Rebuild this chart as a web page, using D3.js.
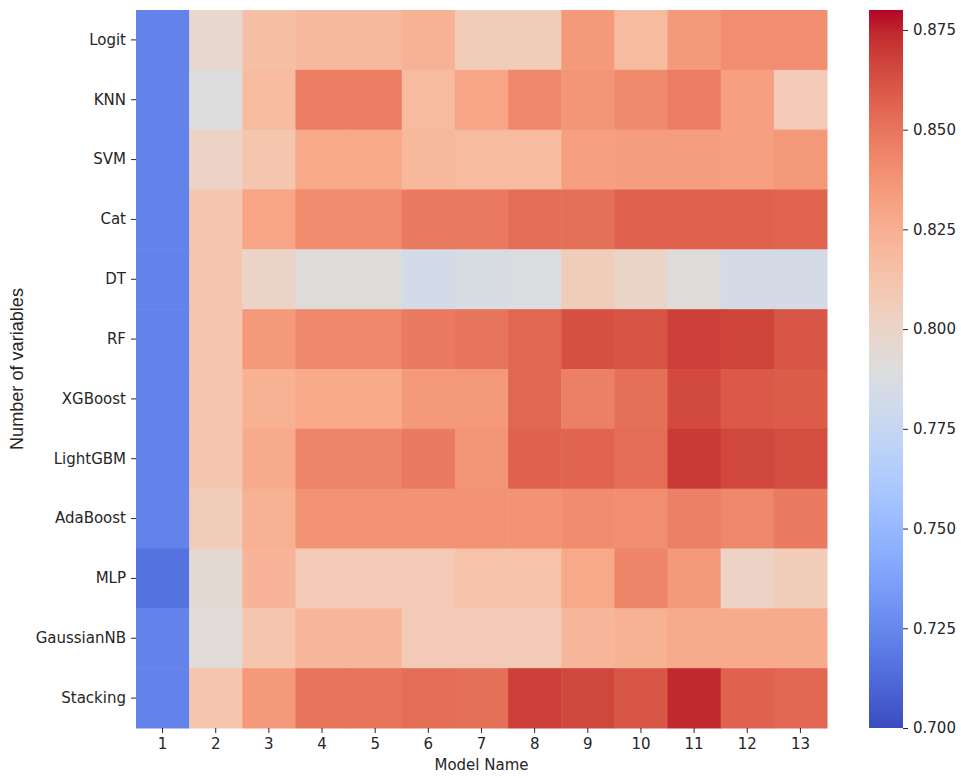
<!DOCTYPE html>
<html><head><meta charset="utf-8">
<script src="https://cdn.jsdelivr.net/npm/d3@7"></script>
<style>body{margin:0;background:#fff}svg{display:block}</style>
</head><body>
<script>
const models = ["Logit","KNN","SVM","Cat","DT","RF","XGBoost","LightGBM","AdaBoost","MLP","GaussianNB","Stacking"];
const columns = ["1","2","3","4","5","6","7","8","9","10","11","12","13"];
const rowLogit      = [0.723,0.797,0.815,0.819,0.819,0.823,0.807,0.807,0.835,0.818,0.835,0.840,0.840];
const rowKNN        = [0.723,0.790,0.818,0.847,0.847,0.818,0.830,0.843,0.837,0.842,0.847,0.832,0.808];
const rowSVM        = [0.723,0.801,0.812,0.828,0.828,0.820,0.818,0.818,0.832,0.833,0.833,0.832,0.836];
const rowCat        = [0.723,0.812,0.830,0.841,0.841,0.848,0.848,0.853,0.852,0.857,0.857,0.857,0.856];
const rowDT         = [0.723,0.812,0.800,0.791,0.791,0.783,0.786,0.788,0.806,0.800,0.791,0.784,0.784];
const rowRF         = [0.723,0.812,0.835,0.843,0.843,0.848,0.850,0.855,0.863,0.862,0.868,0.867,0.861];
const rowXGBoost    = [0.723,0.812,0.824,0.828,0.828,0.835,0.836,0.855,0.846,0.852,0.865,0.860,0.859];
const rowLightGBM   = [0.723,0.812,0.827,0.844,0.844,0.848,0.837,0.857,0.856,0.853,0.870,0.866,0.864];
const rowAdaBoost   = [0.723,0.807,0.824,0.838,0.838,0.838,0.838,0.838,0.841,0.840,0.846,0.843,0.848];
const rowMLP        = [0.716,0.795,0.822,0.808,0.808,0.808,0.814,0.814,0.828,0.844,0.835,0.801,0.807];
const rowGaussianNB = [0.723,0.792,0.812,0.821,0.821,0.808,0.808,0.808,0.821,0.824,0.827,0.827,0.827];
const rowStacking   = [0.723,0.812,0.835,0.850,0.850,0.853,0.852,0.868,0.866,0.861,0.874,0.857,0.855];
const values = [rowLogit,rowKNN,rowSVM,rowCat,rowDT,rowRF,rowXGBoost,rowLightGBM,rowAdaBoost,rowMLP,rowGaussianNB,rowStacking];
const colorTicks = [0.700,0.725,0.750,0.775,0.800,0.825,0.850,0.875];
const vmin = 0.70, vmax = 0.88;

// matplotlib coolwarm (Moreland) control points
const cw = [[59,76,192],[68,90,204],[77,104,215],[87,117,225],[98,130,234],[108,142,241],[119,154,247],[130,165,251],[141,176,254],[152,185,255],[163,194,255],[174,201,253],[184,208,249],[194,213,244],[204,217,238],[213,219,230],[221,221,221],[229,216,209],[236,211,197],[241,204,185],[245,196,173],[247,187,160],[247,177,148],[247,166,135],[244,154,123],[241,141,111],[236,127,99],[229,112,88],[222,96,77],[213,80,66],[203,62,56],[192,40,47],[180,4,38]];
const cwScale = d3.scaleLinear().domain(cw.map((d,i)=>i/(cw.length-1))).range(cw.map(c=>`rgb(${c[0]},${c[1]},${c[2]})`)).clamp(true);
const color = v => cwScale((v - vmin)/(vmax - vmin));

const W = 961, H = 778;
const L = 136, R = 827, T = 10, B = 728;
const svg = d3.select("body").append("svg").attr("width",W).attr("height",H)
  .style("font-family","'DejaVu Sans', sans-serif");

const x = d3.scaleBand().domain(columns).range([L,R]).padding(0);
const y = d3.scaleBand().domain(models).range([T,B]).padding(0);

const cells = [];
values.forEach((row,i)=>row.forEach((v,j)=>cells.push({m:models[i],c:columns[j],v})));
svg.append("g").selectAll("rect").data(cells).join("rect")
  .attr("x",d=>x(d.c)).attr("y",d=>y(d.m))
  .attr("width",x.bandwidth()+0.5).attr("height",y.bandwidth()+0.5)
  .attr("fill",d=>color(d.v));

const xAxis = svg.append("g").attr("transform",`translate(0,${B})`)
  .call(d3.axisBottom(x).tickSize(5).tickPadding(5));
const yAxis = svg.append("g").attr("transform",`translate(${L},0)`)
  .call(d3.axisLeft(y).tickSize(5).tickPadding(5));
[xAxis,yAxis].forEach(g=>{
  g.select(".domain").remove();
  g.selectAll("text").style("font-size","15px").style("font-family","'DejaVu Sans', sans-serif").attr("fill","#262626");
  g.selectAll("line").attr("stroke","#262626");
});

svg.append("text").attr("x",(L+R)/2).attr("y",770).attr("text-anchor","middle")
  .style("font-size","15px").attr("fill","#262626").text("Model Name");
svg.append("text").attr("transform",`translate(23,${(T+B)/2}) rotate(-90)`).attr("text-anchor","middle")
  .attr("textLength",162).attr("lengthAdjust","spacingAndGlyphs")
  .style("font-size","19px").style("font-family","'Liberation Sans', Arial, sans-serif").attr("fill","#262626").text("Number of variables");

// colorbar
const cbX = 869, cbW = 34;
const cy = d3.scaleLinear().domain([vmin,vmax]).range([B,T]);
const defs = svg.append("defs");
const grad = defs.append("linearGradient").attr("id","cwgrad").attr("x1",0).attr("y1",1).attr("x2",0).attr("y2",0);
cw.forEach((c,i)=>grad.append("stop").attr("offset",i/(cw.length-1)).attr("stop-color",`rgb(${c[0]},${c[1]},${c[2]})`));
svg.append("rect").attr("x",cbX).attr("y",T).attr("width",cbW).attr("height",B-T).attr("fill","url(#cwgrad)");
const cAxis = svg.append("g").attr("transform",`translate(${cbX+cbW},0)`)
  .call(d3.axisRight(cy).tickValues(colorTicks).tickFormat(d3.format(".3f")).tickSize(5).tickPadding(5));
cAxis.select(".domain").remove();
cAxis.selectAll("text").style("font-size","15px").style("font-family","'DejaVu Sans', sans-serif").attr("fill","#262626");
cAxis.selectAll("line").attr("stroke","#262626");
</script>
</body></html>
